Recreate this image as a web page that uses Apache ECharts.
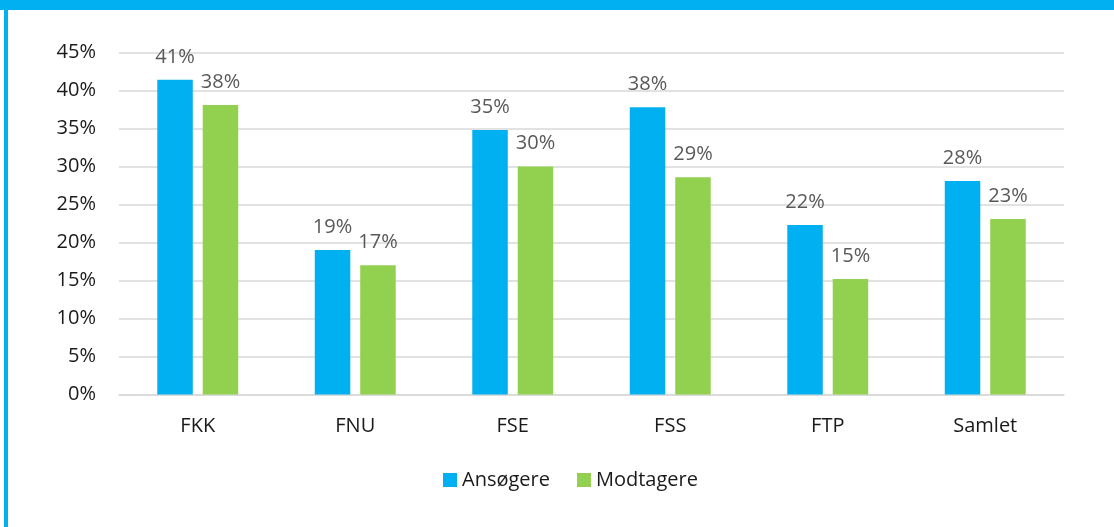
<!DOCTYPE html>
<html>
<head>
<meta charset="utf-8">
<script src="https://cdn.jsdelivr.net/npm/echarts@6/dist/echarts.min.js"></script>
<style>
html,body{margin:0;padding:0;background:#fff;}
#wrap{position:relative;width:1114px;height:527px;overflow:hidden;background:#fff;}
#topbar{position:absolute;left:0;top:0;width:1114px;height:10px;background:#00B0F0;}
#leftbar{position:absolute;left:4px;top:0;width:4px;height:527px;background:#00B0F0;}
#chart{position:absolute;left:0;top:0;width:1114px;height:527px;}
</style>
</head>
<body>
<div id="wrap">
<div id="chart"></div>
<div id="topbar"></div>
<div id="leftbar"></div>
</div>
<script>
const categories = ['FKK', 'FNU', 'FSE', 'FSS', 'FTP', 'Samlet'];
const seriesNames = ['Ansøgere', 'Modtagere'];
const ansoegere = [41.4, 19.0, 34.8, 37.8, 22.3, 28.1];
const modtagere = [38.1, 17.0, 30.0, 28.6, 15.2, 23.1];
const yTicks = [0, 5, 10, 15, 20, 25, 30, 35, 40, 45];

const FONT = '"Open Sans", "Liberation Sans", sans-serif';
const chart = echarts.init(document.getElementById('chart'), null, {renderer: 'canvas'});

function barSeries(name, data, color) {
  return {
    name: name,
    type: 'bar',
    data: data,
    barWidth: 35.5,
    barGap: '28%',
    itemStyle: {color: color},
    label: {
      show: true,
      position: 'top',
      distance: 13,
      color: '#595959',
      fontFamily: FONT,
      fontSize: 20,
      formatter: p => Math.round(p.value) + '%'
    },
    emphasis: {disabled: true}
  };
}

chart.setOption({
  animation: false,
  backgroundColor: 'transparent',
  grid: {left: 119, right: 50, top: 52.5, bottom: 132.5, containLabel: false},
  legend: {
    data: seriesNames,
    left: 438,
    top: 465,
    itemWidth: 14,
    itemHeight: 14,
    itemGap: 27,
    icon: 'rect',
    textStyle: {fontFamily: FONT, fontSize: 20, color: '#1a1a1a'}
  },
  xAxis: {
    type: 'category',
    data: categories,
    axisTick: {show: false},
    axisLine: {show: true, lineStyle: {color: '#d9d9d9', width: 1.5}},
    axisLabel: {margin: 22, fontFamily: FONT, fontSize: 20, color: '#1a1a1a'}
  },
  yAxis: {
    type: 'value',
    min: yTicks[0],
    max: yTicks[yTicks.length - 1],
    interval: 5,
    axisLine: {show: false},
    axisTick: {show: false},
    splitLine: {lineStyle: {color: '#d9d9d9', width: 1.5}},
    axisLabel: {margin: 23, fontFamily: FONT, fontSize: 20, color: '#1a1a1a', formatter: v => v + '%'}
  },
  series: [
    barSeries(seriesNames[0], ansoegere, '#00B0F0'),
    barSeries(seriesNames[1], modtagere, '#92D050')
  ]
});
</script>
</body>
</html>
